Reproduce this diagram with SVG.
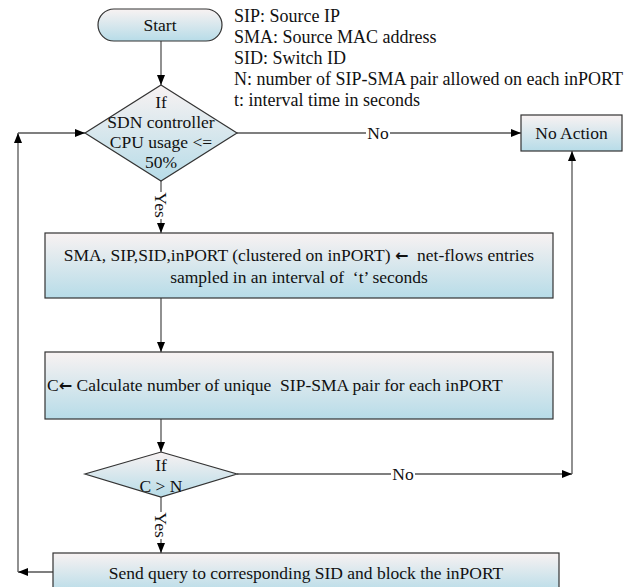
<svg xmlns="http://www.w3.org/2000/svg" width="630" height="587" viewBox="0 0 630 587">
<defs>
<linearGradient id="fillg" x1="0" y1="0" x2="0" y2="1">
<stop offset="0" stop-color="#f8f2f2"/>
<stop offset="1" stop-color="#b7dce8"/>
</linearGradient>
<marker id="ah" markerUnits="userSpaceOnUse" markerWidth="11" markerHeight="9" refX="10" refY="4" orient="auto">
<path d="M0,0 L10,4 L0,8 z" fill="#000"/>
</marker>
<style>
.shape{fill:url(#fillg);stroke:#333;stroke-width:1.2}
.t{font-family:"Liberation Serif","Times New Roman",serif;font-size:17.5px;fill:#111}
.lg{font-size:18px}
.c{text-anchor:middle}
.pre{white-space:pre}
.ar{font-family:"DejaVu Sans",sans-serif;font-size:16px;font-weight:bold}
.conn{fill:none;stroke:#555;stroke-width:1.3}
.arr{marker-end:url(#ah)}
.bg{fill:#fff}
</style>
</defs>
<rect width="630" height="587" fill="#fff"/>

<g id="legend">
<text class="t lg" x="234" y="22">SIP: Source IP</text>
<text class="t lg" x="234" y="43">SMA: Source MAC address</text>
<text class="t lg" x="234" y="64">SID: Switch ID</text>
<text class="t lg" x="234" y="85">N: number of SIP-SMA pair allowed on each inPORT</text>
<text class="t lg" x="234" y="106">t: interval time in seconds</text>
</g>

<g id="connectors">
<path class="conn arr" d="M161,41 V85"/>
<path class="conn arr" d="M237,133 H521"/>
<path class="conn arr" d="M161,181 V233"/>
<path class="conn arr" d="M161,298 V352"/>
<path class="conn arr" d="M161,419 V452"/>
<path class="conn arr" d="M237,474 H572"/>
<path class="conn arr" d="M572,474 V151"/>
<path class="conn arr" d="M161,497 V553"/>
<path class="conn arr" d="M53,572 H18"/>
<path class="conn arr" d="M18,572 V133"/>
<path class="conn arr" d="M18,133 H85"/>
<rect class="bg" x="366" y="124" width="24" height="18"/>
<text class="t c" x="378" y="139">No</text>
<rect class="bg" x="391" y="465" width="24" height="18"/>
<text class="t c" x="403" y="480">No</text>
<rect class="bg" x="152" y="192" width="18" height="27"/>
<text class="t c" transform="translate(155,205) rotate(90)">Yes</text>
<rect class="bg" x="152" y="512" width="18" height="27"/>
<text class="t c" transform="translate(155,525) rotate(90)">Yes</text>
</g>

<g id="start">
<rect class="shape" x="98" y="9" width="124" height="32" rx="16"/>
<text class="t c" x="160" y="31">Start</text>
</g>

<g id="decision1">
<polygon class="shape" points="161,85 237,133 161,181 85,133"/>
<text class="t c" x="161" y="108">If</text>
<text class="t c" x="161" y="128">SDN controller</text>
<text class="t c" x="161" y="148">CPU usage &lt;=</text>
<text class="t c" x="161" y="168">50%</text>
</g>

<g id="noaction">
<rect class="shape" x="521" y="115" width="101" height="36"/>
<text class="t c" x="571.5" y="139">No Action</text>
</g>

<g id="collect">
<rect class="shape" x="45" y="233" width="508" height="65"/>
<text class="t c pre" x="299" y="261">SMA, SIP,SID,inPORT (clustered on inPORT) <tspan class="ar">←</tspan>  net-flows entries</text>
<text class="t c pre" x="299" y="283">sampled in an interval of  ‘t’ seconds</text>
</g>

<g id="calculate">
<rect class="shape" x="45" y="352" width="508" height="67"/>
<text class="t pre" x="47" y="391">C<tspan class="ar">←</tspan> Calculate number of unique  SIP-SMA pair for each inPORT</text>
</g>

<g id="decision2">
<polygon class="shape" points="161,452 237,474 161,497 85,474"/>
<text class="t c" x="161" y="471">If</text>
<text class="t c" x="161" y="492">C &gt; N</text>
</g>

<g id="block">
<rect class="shape" x="53" y="553" width="506" height="40"/>
<text class="t c" x="306" y="579">Send query to corresponding SID and block the inPORT</text>
</g>
</svg>
